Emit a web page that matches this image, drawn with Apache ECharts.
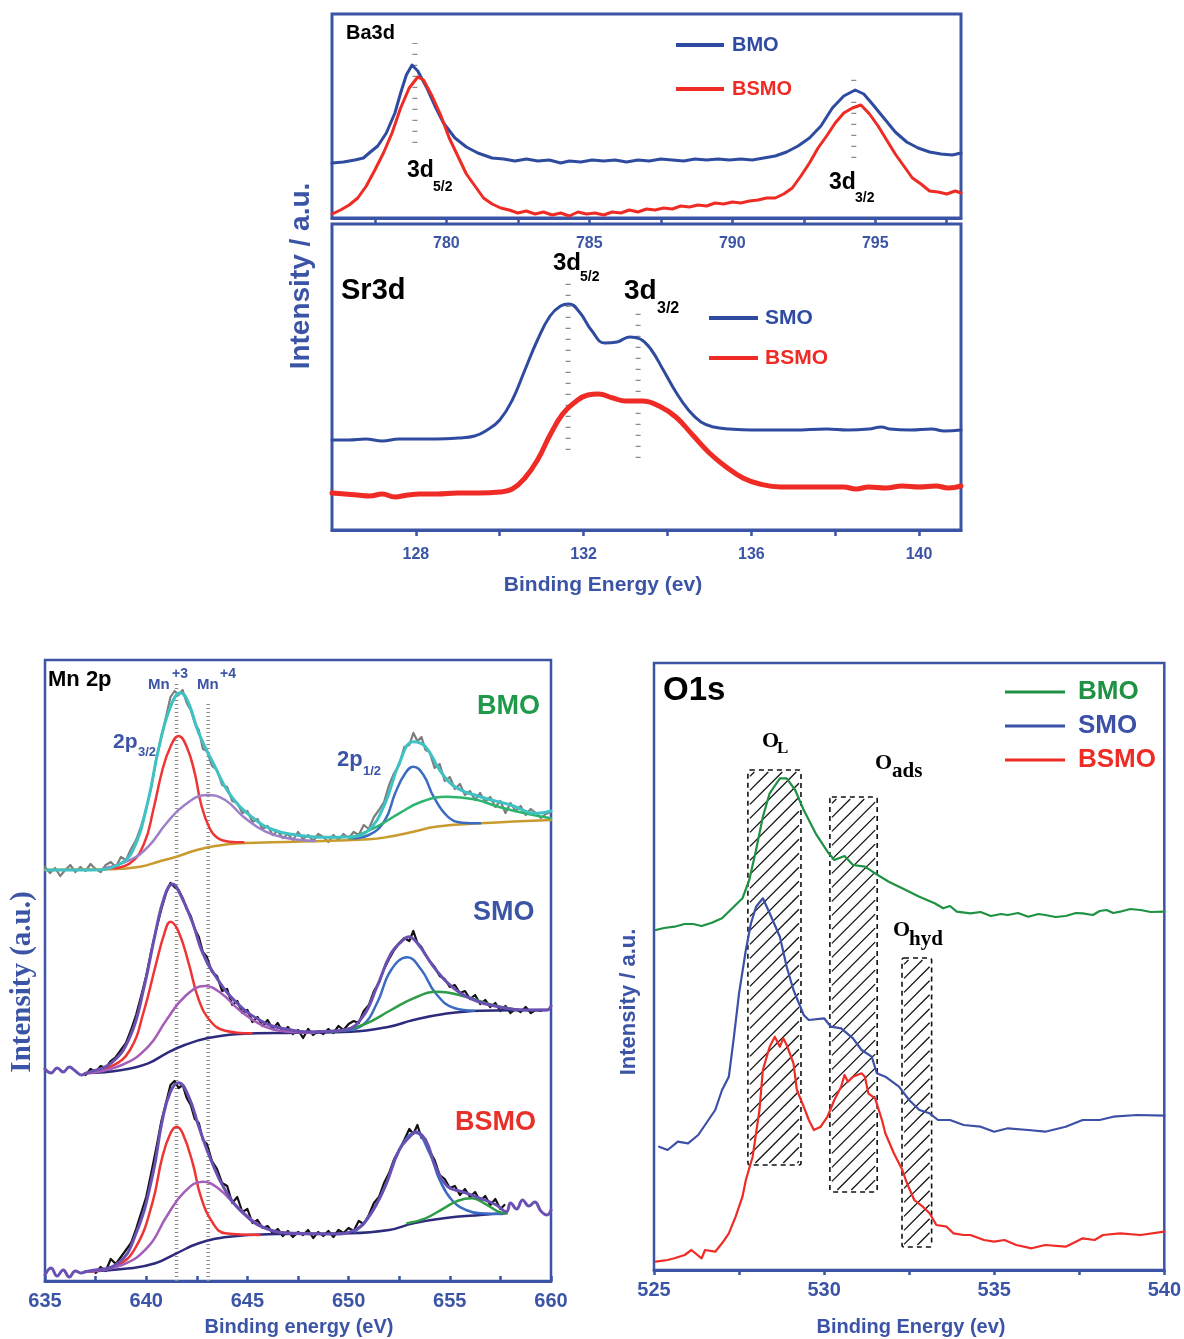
<!DOCTYPE html>
<html><head><meta charset="utf-8">
<script src="https://cdn.jsdelivr.net/npm/echarts@6/dist/echarts.min.js"></script>
<style>html,body{margin:0;padding:0;background:#fff}#c{width:1184px;height:1339px}</style>
</head><body><div id="c"></div>
<script>
// ---------------- Ba3d (binding energy eV, intensity a.u.) ----------------
const ba3dTicks = [777.5, 780, 782.5, 785, 787.5, 790, 792.5, 795, 797.5];
const ba3dLabels = [780, 785, 790, 795];
const ba3dBMO = [[776.0,55],[776.4,56],[776.8,58],[777.1,60],[777.3,65],[777.6,72],[777.9,85],[778.2,105],[778.4,125],[778.6,143],[778.8,153],[779.0,147],[779.3,131],[779.6,112],[779.9,95],[780.3,80],[780.7,71],[781.1,65],[781.6,60],[782.0,59],[782.4,57],[782.8,59],[783.2,57],[783.6,58],[784.0,55],[784.3,57],[784.7,56],[785.1,58],[785.5,57],[785.9,58],[786.3,56],[786.7,58],[787.1,57],[787.5,59],[787.9,58],[788.3,57],[788.7,59],[789.1,58],[789.5,59],[789.9,58],[790.3,59],[790.7,58],[791.1,60],[791.5,62],[791.9,66],[792.3,72],[792.7,80],[793.1,92],[793.5,110],[793.9,122],[794.3,128],[794.6,124],[794.9,114],[795.3,100],[795.7,86],[796.1,76],[796.5,70],[796.9,66],[797.3,64],[797.7,63],[798.0,65]];
const ba3dBSMO = [[776.0,4],[776.3,8],[776.6,13],[776.9,20],[777.2,32],[777.5,48],[777.8,65],[778.1,85],[778.4,110],[778.7,130],[779.0,141],[779.2,138],[779.5,122],[779.8,103],[780.1,80],[780.4,62],[780.7,44],[781.0,32],[781.3,20],[781.6,14],[781.9,10],[782.2,8],[782.5,5],[782.8,7],[783.1,4],[783.4,6],[783.7,3],[784.0,5],[784.3,2],[784.6,6],[784.9,4],[785.2,5],[785.5,3],[785.8,6],[786.1,5],[786.4,8],[786.7,6],[787.0,9],[787.3,8],[787.6,10],[787.9,9],[788.2,12],[788.5,11],[788.8,13],[789.1,12],[789.4,15],[789.7,14],[790.0,16],[790.3,15],[790.6,17],[790.9,18],[791.2,20],[791.5,20],[791.8,24],[792.1,30],[792.4,42],[792.7,55],[793.0,70],[793.3,82],[793.6,95],[793.9,105],[794.2,110],[794.5,113],[794.8,104],[795.1,92],[795.4,78],[795.7,64],[796.0,52],[796.3,40],[796.6,34],[796.9,27],[797.2,26],[797.5,24],[797.8,27],[798.0,25]];
const ba3dGuide1 = [[778.9,75],[778.9,175]];
const ba3dGuide2 = [[794.25,60],[794.25,148]];

// ---------------- Sr3d ----------------
const sr3dTicks = [128, 130, 132, 134, 136, 138, 140];
const sr3dLabels = [128, 132, 136, 140];
const sr3dSMO = [[126.0,90],[126.4,90],[126.8,91],[127.2,89],[127.6,91],[128.0,91],[128.5,91],[129.0,92],[129.4,94],[129.7,100],[130.0,110],[130.3,130],[130.6,160],[130.9,190],[131.2,214],[131.45,224],[131.65,226],[131.9,218],[132.2,199],[132.5,187],[132.8,188],[133.1,193],[133.35,191],[133.6,181],[133.9,160],[134.2,138],[134.5,120],[134.8,108],[135.1,103],[135.5,101],[136.0,100],[137.0,100],[137.8,101],[138.3,100],[138.8,101],[139.1,103],[139.3,101],[139.8,100],[140.3,101],[140.6,99],[141.0,100]];
const sr3dBSMO = [[126.0,37],[126.3,36],[126.6,35],[126.9,34],[127.2,36],[127.5,33],[127.8,35],[128.1,36],[128.5,36],[129.0,37],[129.5,37],[130.0,38],[130.3,41],[130.6,52],[130.9,70],[131.2,95],[131.5,116],[131.8,128],[132.1,135],[132.35,136],[132.7,132],[133.0,129],[133.4,129],[133.8,124],[134.2,113],[134.6,95],[135.0,77],[135.4,63],[135.8,52],[136.2,46],[136.7,43],[137.5,43],[138.2,43],[138.5,41],[138.8,43],[139.2,42],[139.6,44],[140.0,43],[140.4,44],[140.7,42],[141.0,44]];
const sr3dGuide1 = [[131.63,80],[131.63,250]];
const sr3dGuide2 = [[133.3,72],[133.3,217]];

// ---------------- Mn 2p ----------------
const mnTicks = [635,637.5,640,642.5,645,647.5,650,652.5,655,657.5,660];
const mnLabels = [635, 640, 645, 650, 655, 660];
// BMO
const mnBMOraw = [[635.0,414],[635.25,408],[635.5,413],[635.75,405],[636.0,411],[636.25,416],[636.5,409],[636.75,414],[637.0,410],[637.25,417],[637.5,412],[637.75,409],[638.0,416],[638.25,419],[638.5,414],[638.75,424],[639.0,421],[639.25,432],[639.5,441],[639.75,455],[640.0,472],[640.25,494],[640.5,522],[640.75,545],[641.0,566],[641.2,584],[641.4,590],[641.6,586],[641.8,591],[642.0,578],[642.2,571],[642.4,558],[642.6,551],[642.8,532],[643.0,530],[643.25,515],[643.5,511],[643.75,496],[644.0,494],[644.25,480],[644.5,478],[644.75,468],[645.0,470],[645.25,459],[645.5,462],[645.75,452],[646.0,455],[646.25,446],[646.5,450],[646.75,443],[647.0,447],[647.25,441],[647.5,449],[647.75,442],[648.0,446],[648.25,440],[648.5,447],[648.75,444],[649.0,439],[649.25,446],[649.5,441],[649.75,447],[650.0,443],[650.25,449],[650.5,446],[650.75,456],[651.0,452],[651.25,464],[651.5,471],[651.75,479],[652.0,496],[652.25,508],[652.5,516],[652.75,534],[653.0,536],[653.2,548],[653.4,540],[653.6,544],[653.8,531],[654.0,529],[654.25,513],[654.5,517],[654.75,500],[655.0,504],[655.25,492],[655.5,497],[655.75,486],[656.0,490],[656.25,481],[656.5,488],[656.75,479],[657.0,484],[657.25,474],[657.5,480],[657.75,468],[658.0,478],[658.25,470],[658.5,475],[658.75,466],[659.0,472],[659.25,468],[659.5,463],[659.75,467],[660.0,469]];
const mnBMObg = [[635.0,411],[637.5,411.5],[638.25,411.7],[639.7,414.3],[640.6,419.3],[641.5,424.3],[642.5,431],[643.4,435],[644.6,437.7],[647.4,439.3],[651.0,441.7],[652.0,444.3],[653.2,449.3],[654.3,454.3],[656.5,457.7],[660,461]];
const mnBMOmn3 = [[638.25,412.7],[639.2,417.7],[639.9,437.7],[640.35,471],[640.8,511],[641.2,534.3],[641.6,545],[642.0,534.3],[642.4,507.7],[642.7,477.7],[643.1,454.3],[643.55,442.7],[644.1,439.3],[644.8,438.7]];
const mnBMOmn4 = [[637.9,412.7],[639.2,421],[640.1,434.3],[641.0,457.7],[641.9,476],[643.0,486],[643.9,481],[644.8,464.3],[645.9,449.3],[647.0,442.7],[648.3,440]];
const mnBMOp12 = [[650.1,442.7],[651.0,446],[651.8,461],[652.3,487.7],[652.8,507.7],[653.2,514.3],[653.7,506],[654.2,484.3],[654.9,464.3],[655.6,458.3],[656.5,457.7]];
const mnBMOsat = [[650.1,442.7],[651.4,454.3],[652.5,467.7],[653.6,479.3],[654.9,484.3],[656.2,481.7],[657.4,474.3],[658.7,467.7],[660,462.7]];
const mnBMOfit = [[635.05,411],[637.3,411],[638.6,416],[639.35,431],[640.1,481],[640.6,531],[641.2,574.3],[641.7,588.3],[642.1,577.7],[642.6,547.7],[643.4,514.3],[644.1,487.7],[645.2,464.3],[646.3,451],[647.4,446],[648.9,443.7],[650.1,444.3],[651.0,451],[651.8,477.7],[652.5,517.7],[653.2,539.3],[653.8,534.3],[654.5,511],[655.25,494.3],[656.5,484.3],[658.0,476],[659.3,467.7],[660,470]];
// SMO
const mnSMOraw = [[637.0,206],[637.25,212],[637.5,209],[637.75,215],[638.0,213],[638.25,220],[638.5,224],[638.75,231],[639.0,238],[639.25,251],[639.5,266],[639.75,285],[640.0,305],[640.25,330],[640.5,352],[640.75,372],[641.0,389],[641.2,398],[641.4,394],[641.6,391],[641.8,383],[642.0,372],[642.2,365],[642.4,352],[642.6,344],[642.8,329],[643.0,324],[643.25,309],[643.5,305],[643.75,290],[644.0,292],[644.25,276],[644.5,280],[644.75,268],[645.0,271],[645.25,259],[645.5,264],[645.75,255],[646.0,261],[646.25,252],[646.5,258],[646.75,249],[647.0,254],[647.25,247],[647.5,251],[647.75,243],[648.0,252],[648.25,246],[648.5,250],[648.75,247],[649.0,252],[649.25,248],[649.5,255],[649.75,251],[650.0,257],[650.25,260],[650.5,258],[650.75,270],[651.0,276],[651.25,290],[651.5,298],[651.75,312],[652.0,322],[652.25,331],[652.5,338],[652.75,343],[653.0,340],[653.2,350],[653.4,338],[653.6,334],[653.8,326],[654.0,320],[654.25,314],[654.5,305],[654.75,302],[655.0,294],[655.25,296],[655.5,288],[655.75,290],[656.0,282],[656.25,286],[656.5,277],[656.75,281],[657.0,274],[657.25,278],[657.5,270],[657.75,275],[658.0,268],[658.25,272],[658.5,269],[658.75,274],[659.0,268],[659.25,271],[659.5,270]];
const mnSMObg = [[637.0,207.7],[638.8,211],[640.1,217.7],[641.0,227.7],[641.9,236],[643.0,242.7],[644.6,247],[647.4,248.3],[650.1,249.3],[652.0,254.3],[653.2,261],[654.7,267],[656.5,270.3],[659.8,271]];
const mnSMOmn3 = [[637.0,207.7],[638.25,214.3],[639.2,231],[639.9,271],[640.45,314.3],[640.9,347.7],[641.2,359.3],[641.6,349.3],[642.1,317.7],[642.6,281],[643.2,259.3],[643.9,250.3],[645.2,247.7]];
const mnSMOmn4 = [[637.0,207.7],[638.8,216],[640.1,234.3],[641.0,261],[641.9,284.3],[642.9,295],[643.7,287.7],[644.6,271],[645.7,256],[647.0,249.3],[648.3,248.3]];
const mnSMOp12 = [[649.8,250.3],[650.7,256],[651.4,277.7],[652.1,311],[652.9,323.7],[653.6,311],[654.3,287.7],[655.25,272.7],[656.2,270.3]];
const mnSMOsat = [[649.2,249.3],[650.7,256],[652.1,271],[653.2,282.7],[654.4,289.3],[655.8,284.3],[657.1,276],[658.4,271]];
const mnSMOfit = [[635.0,212],[635.3,208],[635.6,213],[635.9,209],[636.2,214],[636.5,210],[636.8,206],[637.0,207.7],[638.25,217.7],[639.2,244.3],[639.9,294.3],[640.45,347.7],[640.9,384.3],[641.3,397],[641.7,386],[642.3,357.7],[642.8,327.7],[643.55,301],[644.5,277.7],[645.6,261],[646.7,252.7],[648.3,249.3],[649.8,251],[650.7,264.3],[651.4,294.3],[652.1,327.7],[652.7,341],[652.96,344.3],[653.4,337.7],[654.2,314.3],[655.1,294.3],[656.2,281],[657.4,274.3],[658.7,271],[659.8,271],[660.0,275]];
// BSMO
const mnBSMOraw = [[637.5,8],[637.75,14],[638.0,10],[638.25,22],[638.5,17],[638.75,24],[639.0,31],[639.25,38],[639.5,52],[639.75,68],[640.0,84],[640.25,108],[640.5,133],[640.75,160],[641.0,180],[641.2,196],[641.4,200],[641.6,193],[641.8,196],[642.0,183],[642.2,176],[642.4,162],[642.6,158],[642.8,141],[643.0,137],[643.25,120],[643.5,112],[643.75,98],[644.0,95],[644.25,78],[644.5,84],[644.75,69],[645.0,72],[645.25,58],[645.5,61],[645.75,53],[646.0,55],[646.25,48],[646.5,52],[646.75,45],[647.0,50],[647.25,44],[647.5,49],[647.75,46],[648.0,51],[648.25,43],[648.5,49],[648.75,45],[649.0,50],[649.25,44],[649.5,51],[649.75,48],[650.0,53],[650.25,50],[650.5,60],[650.75,57],[651.0,66],[651.25,78],[651.5,84],[651.75,98],[652.0,108],[652.25,122],[652.5,131],[652.75,141],[653.0,152],[653.2,147],[653.4,156],[653.6,143],[653.8,142],[654.0,130],[654.25,121],[654.5,106],[654.75,102],[655.0,93],[655.25,95],[655.5,86],[655.75,92],[656.0,84],[656.25,89],[656.5,80],[656.75,85],[657.0,76],[657.25,82],[657.5,72],[657.7,76]];
const mnBSMObg = [[637.0,9.3],[639.2,12.7],[640.45,17.7],[641.5,27.7],[642.6,37.7],[644.1,44.3],[646.5,47],[650.1,47.7],[652.0,51],[653.2,57.7],[654.7,62.7],[656.5,66],[657.8,67.7]];
const mnBSMOmn3 = [[637.0,9.3],[638.6,16],[639.5,34.3],[640.3,77.7],[640.8,124.3],[641.2,147.7],[641.5,154.3],[641.8,147.7],[642.3,117.7],[642.7,84.3],[643.3,57.7],[643.9,47.7],[645.6,46]];
const mnBSMOmn4 = [[637.0,9.3],[638.8,16],[640.1,34.3],[641.0,64.3],[641.9,89.3],[642.8,99.3],[643.55,92.7],[644.5,74.3],[645.6,56],[646.8,48.3],[648.3,47]];
const mnBSMOp12 = [[650.3,49.3],[651.0,64.3],[651.8,94.3],[652.5,131],[653.3,148.3],[654.0,127.7],[654.5,101],[655.1,81],[655.8,71],[656.5,67.7],[657.6,67]];
const mnBSMOsat = [[652.9,57.7],[653.8,62.7],[654.7,72.7],[655.4,80.3],[656.1,82.7],[656.7,77.7],[657.4,69.3],[657.8,67.7]];
const mnBSMOfit = [[635.0,6],[635.3,13],[635.6,5],[635.9,11],[636.2,4],[636.5,10],[636.8,8],[637.0,9.3],[638.6,17.7],[639.5,47.7],[640.3,104.3],[640.8,161],[641.2,189.3],[641.6,198.3],[642.1,184.3],[642.6,154.3],[643.2,121],[643.9,91],[644.8,67.7],[645.9,52.7],[647.4,47.7],[649.2,47],[650.3,51],[651.0,64.3],[651.8,94.3],[652.5,131],[653.1,146],[653.3,149.3],[653.8,141],[654.3,114.3],[654.9,94.3],[655.6,89.3],[656.5,82.7],[657.3,76],[657.8,69.3],[658.0,78],[658.3,72],[658.6,81],[658.9,75],[659.2,79],[659.5,70],[659.8,66],[660.0,71]];
const mnGuide3 = [[641.5,0],[641.5,598]];
const mnGuide4 = [[643.06,0],[643.06,579]];

// ---------------- O1s ----------------
const o1sTicks = [525,527.5,530,532.5,535,537.5,540];
const o1sLabels = [525, 530, 535, 540];
const o1sBMO = [[525.05,340],[525.3,342],[525.6,343.3],[525.9,346],[526.15,346],[526.4,344],[526.7,347.3],[527.0,351.7],[527.3,361.7],[527.6,371.7],[527.8,390],[528.0,420],[528.2,453.3],[528.4,476.7],[528.7,491.7],[528.9,491.7],[529.15,480],[529.4,460],[529.75,436.7],[530.1,418.3],[530.3,410],[530.6,414],[530.85,405],[531.2,403.3],[531.5,396.7],[531.9,388.3],[532.4,380],[532.8,373.3],[533.25,366.7],[533.5,361.7],[533.7,364],[533.9,358.3],[534.3,356.7],[534.6,358],[534.9,354],[535.2,356],[535.4,355],[535.7,357],[536.0,353.3],[536.3,356],[536.5,355],[536.8,353],[537.1,354],[537.4,357],[537.6,356.7],[537.9,355],[538.1,359],[538.3,360],[538.5,357],[538.7,358.3],[539.0,361],[539.3,360],[539.6,358],[540.0,358.3]];
const o1sSMO = [[525.15,123.3],[525.4,120],[525.7,128.3],[526.0,126.7],[526.3,135],[526.5,145],[526.8,160],[527.0,180],[527.2,193.3],[527.35,233.3],[527.5,276.7],[527.7,320],[527.85,346.7],[528.0,363.3],[528.2,371.7],[528.4,356.7],[528.7,333.3],[528.9,303.3],[529.1,280],[529.4,255],[529.55,250],[530.0,251.7],[530.2,243.3],[530.5,241.7],[530.85,231.7],[531.1,220],[531.4,213.3],[531.55,196.7],[531.8,193.3],[532.2,183.3],[532.5,170],[532.8,160],[533.1,156.7],[533.35,150],[533.7,150],[534.1,145],[534.6,143.3],[535.0,138.3],[535.4,141.7],[536.0,140],[536.5,138.3],[537.1,143.3],[537.6,150],[538.1,150],[538.5,153.3],[539.2,155],[540.0,154.3]];
const o1sBSMO = [[525.05,8.3],[525.4,10],[525.6,11.7],[525.9,15],[526.1,20],[526.4,11.7],[526.5,20],[526.8,18.3],[527.0,26.7],[527.2,36.7],[527.4,53.3],[527.6,73.3],[527.7,90],[527.9,113.3],[528.1,160],[528.2,200],[528.4,223.3],[528.55,233.3],[528.7,223.3],[528.8,231.7],[528.9,225],[529.1,206.7],[529.2,180],[529.4,163.3],[529.55,150],[529.7,140],[529.9,143.3],[530.1,153.3],[530.3,170],[530.5,183.3],[530.6,195],[530.7,188.3],[530.85,193.3],[531.1,196.7],[531.2,193.3],[531.3,176.7],[531.5,171.7],[531.7,150],[531.8,136.7],[532.05,116.7],[532.3,100],[532.4,90],[532.5,81.7],[532.65,70],[532.9,63.3],[533.1,56.7],[533.3,45],[533.6,43.3],[533.8,36.7],[534.1,35],[534.3,35],[534.7,30],[535.0,28.3],[535.3,30],[535.65,25],[536.1,21.7],[536.5,25],[537.1,23.3],[537.4,28.3],[537.6,31.7],[537.95,30],[538.2,35],[538.7,36.7],[539.3,35],[540.0,38.3]];
// hatched regions: [xStart, xEnd, yBottom, yTop]
const o1sRegions = [[527.76,529.32,105,500],[530.17,531.56,78,473],[532.29,533.16,23,312]];

// ---------------- styling ----------------
const FONT = '"Liberation Sans", Arial, sans-serif';
const SERIF = '"Liberation Serif", "Times New Roman", serif';
const BLUE = '#3b54a5';
const C = {
  blue:'#2f4b9f', red:'#ee2b24', green:'#1e9142', gray:'#7d7d7d', cyan:'#3fc2c4',
  mred:'#ef3434', lav:'#9c80c8', mag:'#a45db9', comp:'#3b6cc2', sat1:'#2db56f', sat2:'#2e9c48',
  gold:'#c99a2e', navy:'#2d2b7d', env:'#6a50b2', black:'#111'
};

function ln(name, data, gi, color, width, o) {
  o = o || {};
  const dashed = !!o.dash;
  return {type:'line', name, data, xAxisIndex:gi, yAxisIndex:gi, showSymbol:false, symbol:'none',
    smooth: o.smooth || false,
    color, itemStyle:{color}, lineStyle:{color, width, type: o.dash || 'solid', cap: dashed ? 'butt' : 'round', join:'round'},
    z: o.z || 3, silent:true, animation:false, emphasis:{disabled:true}};
}
function xa(gi, min, max, ticks, labels, fs, margin, inside, tl) {
  return {type:'value', gridIndex:gi, min, max,
    axisLine:{show:true, onZero:false, lineStyle:{color:BLUE, width:3}},
    axisTick:{show:true, inside, length:tl, lineStyle:{color:BLUE, width:2.5}, customValues:ticks},
    axisLabel:{show:true, customValues:labels, fontSize:fs, fontWeight:'bold', color:BLUE, fontFamily:FONT, margin},
    splitLine:{show:false}};
}
function ya(gi, max) { return {type:'value', gridIndex:gi, min:0, max, show:false}; }
function t(text, x, y, size, color, o) {
  o = o || {};
  return {type:'text', x, y, rotation:o.rot || 0, z:100, silent:true,
    style:{text, fill:color, fontSize:size, fontWeight:o.weight || 'bold', fontFamily:o.family || FONT,
      textAlign:o.align || 'left', align:o.align || 'left', textVerticalAlign:'middle', verticalAlign:'middle'}};
}
function hatch(params, api) {
  const p1 = api.coord([api.value(0), api.value(3)]);
  const p2 = api.coord([api.value(1), api.value(2)]);
  const L = p1[0], T = p1[1], R = p2[0], B = p2[1];
  const kids = [], step = 14;
  for (let c = L + T + step * 0.6; c < R + B; c += step) {
    const xa_ = Math.max(L + 2, c - B + 2), xb = Math.min(R - 2, c - T - 2);
    if (xb - xa_ > 1) kids.push({type:'line', shape:{x1:xa_, y1:c - xa_, x2:xb, y2:c - xb}, style:{stroke:'#111', lineWidth:1.3}});
  }
  kids.push({type:'rect', shape:{x:L, y:T, width:R - L, height:B - T, r:2}, style:{fill:'none', stroke:'#111', lineWidth:1.6, lineDash:[5,4]}});
  return {type:'group', children:kids};
}

const legendText = {fontSize:20, fontWeight:'bold', fontFamily:FONT, lineHeight:24};
const fmt = n => n.split('|')[1];
const SM = 0.45;

const option = {
  animation:false, backgroundColor:'#fff',
  grid:[
    {left:332, top:14, width:629, height:204, show:true, borderColor:BLUE, borderWidth:3},
    {left:332, top:224, width:629, height:306, show:true, borderColor:BLUE, borderWidth:3},
    {left:45, top:660, width:506, height:621, show:true, borderColor:BLUE, borderWidth:2.5},
    {left:654, top:663, width:511, height:607, show:true, borderColor:BLUE, borderWidth:2.5}
  ],
  xAxis:[
    xa(0, 776, 798, ba3dTicks, ba3dLabels, 16, 18, false, 5),
    xa(1, 126, 141, sr3dTicks, sr3dLabels, 16, 17, false, 6),
    xa(2, 635, 660, mnTicks, mnLabels, 20, 10, true, 5),
    xa(3, 525, 540, o1sTicks, o1sLabels, 20, 10, false, 5)
  ],
  yAxis:[ya(0,204), ya(1,306), ya(2,621), ya(3,607)],
  legend:[
    {left:676, top:33, orient:'vertical', padding:0, itemGap:20, itemWidth:48, itemHeight:4, icon:'rect', selectedMode:false, formatter:fmt,
      textStyle:Object.assign({}, legendText, {padding:[0,0,0,3]}),
      data:[{name:'Ba|BMO', textStyle:{color:C.blue}}, {name:'Ba|BSMO', textStyle:{color:C.red}}]},
    {left:709, top:306, orient:'vertical', padding:0, itemGap:16, itemWidth:49, itemHeight:4, icon:'rect', selectedMode:false, formatter:fmt,
      textStyle:Object.assign({}, legendText, {fontSize:21, padding:[0,0,0,2]}),
      data:[{name:'Sr|SMO', textStyle:{color:C.blue}}, {name:'Sr|BSMO', textStyle:{color:C.red}}]},
    {left:1005, top:678, orient:'vertical', padding:0, itemGap:6, itemWidth:60, itemHeight:3, icon:'rect', selectedMode:false, formatter:fmt,
      textStyle:Object.assign({}, legendText, {fontSize:26, lineHeight:28, padding:[0,0,0,8]}),
      data:[{name:'O|BMO', textStyle:{color:C.green}}, {name:'O|SMO', textStyle:{color:'#3b50a6'}}, {name:'O|BSMO', textStyle:{color:C.red}}]}
  ],
  series:[
    // Ba3d
    ln('g1', ba3dGuide1, 0, '#8a8a8a', 5, {dash:[1.2,9.8], z:1}),
    ln('g2', ba3dGuide2, 0, '#8a8a8a', 5, {dash:[1.2,9.8], z:1}),
    ln('Ba|BMO', ba3dBMO, 0, C.blue, 3),
    ln('Ba|BSMO', ba3dBSMO, 0, C.red, 3),
    // Sr3d
    ln('g3', sr3dGuide1, 1, '#8a8a8a', 5, {dash:[1.2,9.8], z:1}),
    ln('g4', sr3dGuide2, 1, '#8a8a8a', 5, {dash:[1.2,9.8], z:1}),
    ln('Sr|SMO', sr3dSMO, 1, C.blue, 3, {smooth:SM}),
    ln('Sr|BSMO', sr3dBSMO, 1, C.red, 5, {smooth:SM}),
    // Mn 2p guides
    ln('g5', mnGuide3, 2, '#888', 3.5, {dash:[1,3], z:1}),
    ln('g6', mnGuide4, 2, '#888', 3.5, {dash:[1,3], z:1}),
    // Mn BMO
    ln('mBraw', mnBMOraw, 2, C.gray, 2.2),
    ln('mBbg', mnBMObg, 2, C.gold, 2.5, {smooth:SM, z:4}),
    ln('mB3', mnBMOmn3, 2, C.mred, 2.5, {smooth:SM, z:4}),
    ln('mB4', mnBMOmn4, 2, C.lav, 2.5, {smooth:SM, z:4}),
    ln('mBp', mnBMOp12, 2, C.comp, 2.5, {smooth:SM, z:4}),
    ln('mBs', mnBMOsat, 2, C.sat1, 2.5, {smooth:SM, z:4}),
    ln('mBf', mnBMOfit, 2, C.cyan, 3, {smooth:SM, z:5}),
    // Mn SMO
    ln('mSraw', mnSMOraw, 2, C.black, 2.2),
    ln('mSbg', mnSMObg, 2, C.navy, 2.5, {smooth:SM, z:4}),
    ln('mS3', mnSMOmn3, 2, C.mred, 2.5, {smooth:SM, z:4}),
    ln('mS4', mnSMOmn4, 2, C.mag, 2.5, {smooth:SM, z:4}),
    ln('mSp', mnSMOp12, 2, C.comp, 2.5, {smooth:SM, z:4}),
    ln('mSs', mnSMOsat, 2, C.sat2, 2.5, {smooth:SM, z:4}),
    ln('mSf', mnSMOfit, 2, C.env, 3, {smooth:SM, z:5}),
    // Mn BSMO
    ln('mXraw', mnBSMOraw, 2, C.black, 2.2),
    ln('mXbg', mnBSMObg, 2, C.navy, 2.5, {smooth:SM, z:4}),
    ln('mX3', mnBSMOmn3, 2, C.mred, 2.5, {smooth:SM, z:4}),
    ln('mX4', mnBSMOmn4, 2, C.mag, 2.5, {smooth:SM, z:4}),
    ln('mXp', mnBSMOp12, 2, C.comp, 2.5, {smooth:SM, z:4}),
    ln('mXs', mnBSMOsat, 2, C.sat2, 2.5, {smooth:SM, z:4}),
    ln('mXf', mnBSMOfit, 2, C.env, 3, {smooth:SM, z:5}),
    // O1s
    {type:'custom', name:'regions', xAxisIndex:3, yAxisIndex:3, data:o1sRegions, renderItem:hatch, z:2, silent:true, animation:false, encode:{x:[0,1], y:[2,3]}},
    ln('O|BMO', o1sBMO, 3, C.green, 2.2),
    ln('O|SMO', o1sSMO, 3, '#3b50a6', 2.2),
    ln('O|BSMO', o1sBSMO, 3, C.red, 2.2)
  ],
  graphic:[
    // Ba3d / Sr3d annotations
    t('Ba3d', 346, 33, 20, '#000'),
    t('3d', 407, 171, 23, '#000'), t('5/2', 433, 187, 14, '#000'),
    t('3d', 829, 183, 23, '#000'), t('3/2', 855, 198, 14, '#000'),
    t('Sr3d', 341, 291, 29, '#000'),
    t('3d', 553, 263, 24, '#000'), t('5/2', 580, 277, 14, '#000'),
    t('3d', 624, 291, 28, '#000'), t('3/2', 657, 309, 16, '#000'),
    t('Intensity / a.u.', 301, 276, 28, BLUE, {rot:Math.PI/2, align:'center'}),
    t('Binding Energy (ev)', 603, 585, 21, BLUE, {align:'center'}),
    // Mn 2p annotations
    t('Mn 2p', 48, 680, 22, '#000'),
    t('Mn', 148, 685, 15, BLUE), t('+3', 172, 674, 14, BLUE),
    t('Mn', 197, 685, 15, BLUE), t('+4', 220, 674, 14, BLUE),
    t('2p', 113, 742, 21, BLUE), t('3/2', 138, 752, 13, BLUE),
    t('2p', 337, 760, 22, BLUE), t('1/2', 363, 771, 13, BLUE),
    t('BMO', 477, 707, 27, '#1e9a4a'),
    t('SMO', 473, 913, 27, BLUE),
    t('BSMO', 455, 1123, 27, '#e8302a'),
    t('Intensity (a.u.)', 23, 982, 29, BLUE, {rot:Math.PI/2, align:'center', family:SERIF}),
    t('Binding energy (eV)', 299, 1327, 20, BLUE, {align:'center'}),
    // O1s annotations
    t('O1s', 663, 691, 33, '#000'),
    t('O', 762, 741, 22, '#000', {family:SERIF}), t('L', 777, 749, 17, '#000', {family:SERIF}),
    t('O', 875, 763, 22, '#000', {family:SERIF}), t('ads', 892, 772, 21, '#000', {family:SERIF}),
    t('O', 893, 930, 22, '#000', {family:SERIF}), t('hyd', 909, 940, 21, '#000', {family:SERIF}),
    t('Intensity / a.u.', 629, 1002, 22, BLUE, {rot:Math.PI/2, align:'center'}),
    t('Binding Energy (ev)', 911, 1327, 20, BLUE, {align:'center'})
  ]
};
const chart = echarts.init(document.getElementById('c'), null, {renderer:'canvas', width:1184, height:1339});
chart.setOption(option);
</script></body></html>
